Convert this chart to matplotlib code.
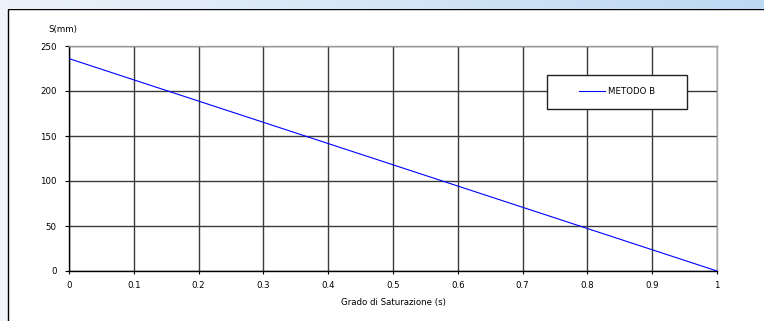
import matplotlib.pyplot as plt
import numpy as np
from matplotlib.patches import Rectangle

# data
saturation = [0.0, 1.0]
settlement = [236, 0]
x_ticks = [0, 0.1, 0.2, 0.3, 0.4, 0.5, 0.6, 0.7, 0.8, 0.9, 1]
x_tick_labels = ["0", "0.1", "0.2", "0.3", "0.4", "0.5", "0.6", "0.7", "0.8", "0.9", "1"]
y_ticks = [0, 50, 100, 150, 200, 250]
series_label = "METODO B"

plt.rcParams['font.family'] = ['DejaVu Sans']
fs = 6.2

fig = plt.figure(figsize=(7.64, 3.21), dpi=100)
fig.patch.set_facecolor("#f1f5fb")

# top gradient strip (screenshot window)
bg = fig.add_axes([0, 0.972, 1, 0.028])
grad = np.linspace(0, 1, 256).reshape(1, -1)
c0 = np.array([0.93, 0.95, 0.98])
c1 = np.array([0.74, 0.85, 0.95])
img = c0[None, None, :] * (1 - grad[..., None]) + c1[None, None, :] * grad[..., None]
bg.imshow(img, aspect="auto", extent=[0, 1, 0, 1])
bg.set_axis_off()

# white panel
fig.patches.append(Rectangle((8 / 764, -0.1), 1.1, 0.972 + 0.1, transform=fig.transFigure,
                             facecolor="white", edgecolor="black", linewidth=1.0, zorder=-1))

ax = fig.add_axes([69 / 764, 50 / 321, 648 / 764, 225 / 321])
ax.set_facecolor("none")
ax.plot(saturation, settlement, color="#0000ff", linewidth=0.8, label=series_label, zorder=3)

ax.set_xlim(0, 1)
ax.set_ylim(0, 250)
ax.set_xticks(x_ticks)
ax.set_xticklabels(x_tick_labels)
ax.set_yticks(y_ticks)
ax.tick_params(axis="both", labelsize=fs, colors="black", width=0.8)
ax.tick_params(axis="y", length=3, pad=6)
ax.tick_params(axis="x", length=2, pad=5)

ax.grid(True, color="#3a3a3a", linewidth=1.0)
ax.set_axisbelow(True)
ax.spines["left"].set_color("black")
ax.spines["bottom"].set_color("black")
ax.spines["top"].set_color("#9a9a9a")
ax.spines["right"].set_color("#a8a8a8")
for s in ax.spines.values():
    s.set_linewidth(1.0)

ax.text(-0.032, 1.075, "S(mm)", transform=ax.transAxes, fontsize=fs, ha="left", va="center")
ax.text(0.5, -0.14, "Grado di Saturazione (s)", transform=ax.transAxes, fontsize=fs,
        ha="center", va="center")

# legend box
ax.add_patch(Rectangle((0.7377, 0.72), 0.216, 0.151, transform=ax.transAxes,
                       facecolor="white", edgecolor="#222222", linewidth=1.0, zorder=4))
ax.legend(loc="center", bbox_to_anchor=(0.8457, 0.7956), frameon=False, fontsize=fs,
          handlelength=3.0, handletextpad=0.4).set_zorder(5)

fig.savefig("out.png", dpi=100)
